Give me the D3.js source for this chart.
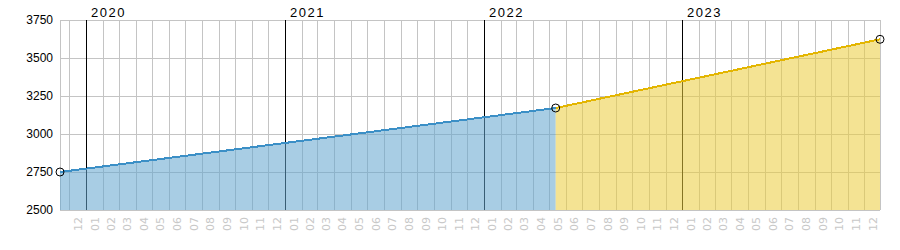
<!DOCTYPE html>
<html><head><meta charset="utf-8">
<script src="https://cdn.jsdelivr.net/npm/d3@7"></script>
<style>body{margin:0;background:#fff;} svg{display:block;}</style>
</head><body>
<svg id="c" width="900" height="250"></svg>
<script>
// data
const dates = ["2019-11-14", "2022-05-13", "2023-12-30"];
const values = [2750, 3171, 3623];
const yTicks = [2500, 2750, 3000, 3250, 3500, 3750];
const years = [2020, 2021, 2022, 2023];
const segColors = [{line:"#3b8fc6", fill:"#64a6cf"}, {line:"#e3b500", fill:"#ebcd3f"}];

const parse = d3.timeParse("%Y-%m-%d");
const pts = dates.map((d,i)=>({t:parse(d), v:values[i]}));

const svg = d3.select("#c");
const m = {l:60, r:20, t:20, b:40};
const W = 900, H = 250;
const x = d3.scaleTime().domain([pts[0].t, pts[pts.length-1].t]).range([m.l, W-m.r]);
const y = d3.scaleLinear().domain([2500, 3750]).range([H-m.b, m.t]);

const g = svg.append("g");
// grid
const months = d3.timeMonth.range(d3.timeMonth.ceil(pts[0].t), pts[pts.length-1].t);
g.selectAll(".vg").data(months.filter(d=>d.getMonth()!==0)).join("line")
  .attr("x1", d=>Math.round(x(d))+0.5).attr("x2", d=>Math.round(x(d))+0.5)
  .attr("y1", y(3750)).attr("y2", y(2500)).attr("stroke", "#c4c4c4");
g.selectAll(".hg").data(yTicks).join("line")
  .attr("x1", m.l).attr("x2", W-m.r)
  .attr("y1", d=>Math.round(y(d))+0.5).attr("y2", d=>Math.round(y(d))+0.5).attr("stroke", "#c4c4c4");
g.append("line").attr("x1", m.l+0.5).attr("x2", m.l+0.5).attr("y1", y(3750)).attr("y2", y(2500)).attr("stroke","#c4c4c4");
g.append("line").attr("x1", W-m.r+0.5).attr("x2", W-m.r+0.5).attr("y1", y(3750)).attr("y2", y(2500)).attr("stroke","#c4c4c4");
// year lines
g.selectAll(".yl").data(years).join("line")
  .attr("x1", d=>Math.round(x(new Date(d,0,1)))+0.5).attr("x2", d=>Math.round(x(new Date(d,0,1)))+0.5)
  .attr("y1", y(3750)).attr("y2", y(2500)).attr("stroke", "#000");

// areas and lines
const area = d3.area().x(d=>x(d.t)).y0(y(2500)).y1(d=>y(d.v));
const line = d3.line().x(d=>x(d.t)).y(d=>y(d.v));
for (let i=0;i<pts.length-1;i++){
  const seg = [pts[i], pts[i+1]];
  g.append("path").attr("d", area(seg)).attr("fill", segColors[i].fill).attr("fill-opacity", 0.56);
}
for (let i=0;i<pts.length-1;i++){
  const seg = [pts[i], pts[i+1]];
  g.append("path").attr("d", line(seg)).attr("fill","none").attr("stroke", segColors[i].line)
    .attr("stroke-width", 2).attr("shape-rendering","crispEdges");
}
// markers
g.selectAll(".mk").data(pts).join("circle")
  .attr("cx", d=>x(d.t)).attr("cy", d=>y(d.v)).attr("r", 4)
  .attr("fill","none").attr("stroke","#000").attr("stroke-width",1);

// y labels
g.selectAll(".yt").data(yTicks).join("text")
  .attr("x", 53).attr("y", d=>y(d)).attr("dy", "0.35em").attr("text-anchor","end")
  .attr("font-family","Liberation Sans, Arial, sans-serif").attr("font-size", 12).attr("fill","#000")
  .text(d=>d);
// year labels
g.selectAll(".yr").data(years).join("text")
  .attr("x", d=>Math.round(x(new Date(d,0,1)))+5).attr("y", 17)
  .attr("font-family","Liberation Sans, Arial, sans-serif").attr("font-size", 13).attr("letter-spacing", 1.5).attr("fill","#000")
  .text(d=>d);
// month labels
const monthStarts = d3.timeMonth.range(d3.timeMonth.floor(pts[0].t), pts[pts.length-1].t);
const mLabels = monthStarts.map(d=>({start: d<pts[0].t ? null : d, mid: new Date((+d + +d3.timeMonth.offset(d,1))/2), m: d.getMonth()+1}))
  .filter(d=>d.start);
g.selectAll(".ml").data(mLabels).join("text")
  .attr("transform", d=>`translate(${x(d.mid)},217) rotate(-90)`)
  .attr("dy","0.36em").attr("text-anchor","end")
  .attr("font-family","DejaVu Sans, Verdana, sans-serif").attr("font-size", 11).attr("fill","#c8c8c8")
  .text(d=>String(d.m).padStart(2,"0"));
</script>
</body></html>
